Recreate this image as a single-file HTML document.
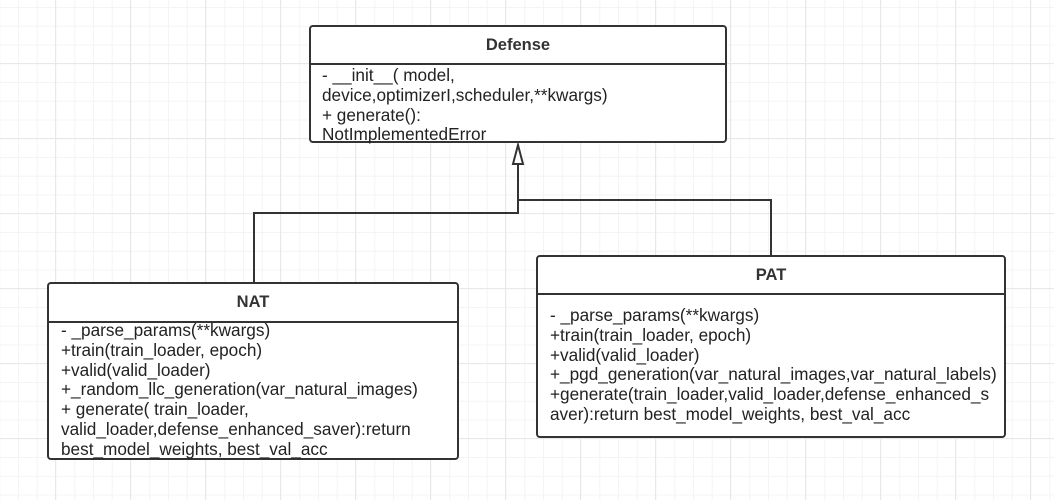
<!DOCTYPE html>
<html><head><meta charset="utf-8"><style>
html,body{margin:0;padding:0}
body{width:1054px;height:500px;position:relative;overflow:hidden;background-color:#fff;
background-image:
linear-gradient(to right,#e8e8e8 1px,transparent 1px),
linear-gradient(to bottom,#e8e8e8 1px,transparent 1px),
linear-gradient(to right,#f4f4f4 1px,transparent 1px),
linear-gradient(to bottom,#f4f4f4 1px,transparent 1px);
background-size:75px 75px,75px 75px,18.75px 18.75px,18.75px 18.75px;
background-position:55px 0,0 63px,18px 0,0 7px;
font-family:"Liberation Sans","Noto Sans CJK SC",sans-serif;color:#222}
.box{position:absolute;border:2px solid #333;border-radius:4px;background:#fff;box-sizing:border-box}
.hd{position:absolute;left:0;right:0;top:0;border-bottom:2px solid #333;text-align:center;font-weight:bold;font-size:16.5px;color:#333}
.bd{position:absolute;font-size:17.2px;line-height:19.8px;white-space:pre}
svg{position:absolute;left:0;top:0}
</style></head><body>
<svg width="1054" height="500">
<g fill="none" stroke="#333" stroke-width="2">
<polyline points="254,283 254,213 518,213 518,165"/>
<polyline points="771,255 771,200 518,200"/>
<polygon points="518,145 513,164 523,164" fill="#fff"/>
</g>
</svg>
<div class="box" style="left:309px;top:25px;width:418px;height:118px">
<div class="hd" style="height:36px;line-height:36px">Defense</div>
<div class="bd" style="left:11px;top:39px">- __init__( model,
device,optimizerI,scheduler,**kwargs)
+ generate():
NotImplementedError</div>
</div>
<div class="box" style="left:47px;top:282px;width:412px;height:178px">
<div class="hd" style="height:37px;line-height:37px">NAT</div>
<div class="bd" style="left:12px;top:37px">- _parse_params(**kwargs)
+train(train_loader, epoch)
+valid(valid_loader)
+_random_llc_generation(var_natural_images)
+ generate( train_loader,
valid_loader,defense_enhanced_saver):return
best_model_weights, best_val_acc</div>
</div>
<div class="box" style="left:536px;top:255px;width:470px;height:183px">
<div class="hd" style="height:36px;line-height:36px">PAT</div>
<div class="bd" style="left:12px;top:49px">- _parse_params(**kwargs)
+train(train_loader, epoch)
+valid(valid_loader)
+_pgd_generation(var_natural_images,var_natural_labels)
+generate(train_loader,valid_loader,defense_enhanced_s
aver):return best_model_weights, best_val_acc</div>
</div>
</body></html>
